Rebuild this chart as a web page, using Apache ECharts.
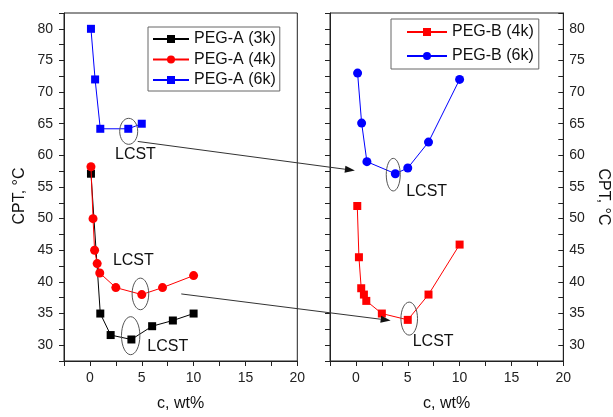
<!DOCTYPE html>
<html>
<head>
<meta charset="utf-8">
<script src="https://cdn.jsdelivr.net/npm/echarts@6/dist/echarts.min.js"></script>
<style>
  html, body { margin: 0; padding: 0; background: #fff; }
  #chart { width: 613px; height: 417px; }
</style>
</head>
<body>
<div id="chart"></div>
<script>
// left panel: PEG-A
const pegA3kX = [0.1, 1, 2, 4, 6, 8, 10];
const pegA3kY = [57.1, 35, 31.6, 30.9, 33, 33.9, 35];
const pegA4kX = [0.1, 0.3, 0.45, 0.7, 0.95, 2.5, 5, 7, 10];
const pegA4kY = [58.2, 50, 45, 42.9, 41.4, 39.1, 38, 39.1, 41];
const pegA6kX = [0.1, 0.5, 1, 3.7, 5];
const pegA6kY = [80, 72, 64.2, 64.2, 65];
// right panel: PEG-B
const pegB4kX = [0.13, 0.29, 0.51, 0.77, 1, 2.5, 5, 7, 10];
const pegB4kY = [52, 43.9, 39, 38, 37, 35, 34, 38, 45.9];
const pegB6kX = [0.16, 0.55, 1.06, 3.8, 5, 7, 10];
const pegB6kY = [73, 65.1, 59, 57.1, 58, 62.1, 72];

// LCST notes: [panel, c, cpt]
const lcstEllipses = [[0, 3.74, 63.8], [0, 4.87, 38.1], [0, 3.93, 31.5], [1, 3.6, 56.95], [1, 5.14, 34.2]];
const lcstLabels = [[0, 4.39, 60.2], [0, 4.19, 43.4], [0, 7.51, 29.7], [1, 6.82, 54.3], [1, 7.45, 30.5]];
// arrows: [from c, from cpt] in left panel -> [to c, to cpt] in right panel
const arrowFrom = [[4.61, 62.2], [8.81, 38.1]];
const arrowTo = [[-0.1, 57.6], [3.35, 33.9]];

const FONT = 'Arial, "Liberation Sans", sans-serif';
const AXIS_COLOR = '#222';

function zip(xs, ys) {
  return xs.map((x, i) => [x, ys[i]]);
}

function xAxisFor(idx) {
  return {
    gridIndex: idx,
    type: 'value',
    min: -2.5,
    max: 20,
    interval: 2.5,
    name: 'c, wt%',
    nameLocation: 'middle',
    nameGap: 35,
    nameTextStyle: { fontSize: 16, color: '#111', fontFamily: FONT },
    axisLine: { onZero: false, lineStyle: { color: AXIS_COLOR } },
    axisTick: { length: 5, lineStyle: { color: AXIS_COLOR } },
    axisLabel: {
      margin: 10, fontSize: 14, color: '#222', fontFamily: FONT,
      formatter: v => (v % 5 === 0 ? String(v) : '')
    },
    splitLine: { show: false }
  };
}

function yAxisFor(idx, position, showLabel, inside) {
  const isLeft = position === 'left';
  return {
    gridIndex: idx,
    type: 'value',
    position: position,
    min: 27.5,
    max: 82.5,
    interval: 2.5,
    name: showLabel ? 'CPT, °C' : '',
    nameLocation: 'middle',
    nameGap: isLeft ? 36 : 32,
    nameRotate: isLeft ? 90 : -90,
    nameTextStyle: {
      fontSize: 16, color: '#111', fontFamily: FONT,
      // nudge the rotated title a little below the plot centre
      padding: isLeft ? [0, 18, 0, 0] : [0, 0, 0, 20]
    },
    axisLine: { onZero: false, lineStyle: { color: AXIS_COLOR } },
    axisTick: { length: 5, inside: inside, lineStyle: { color: AXIS_COLOR } },
    axisLabel: {
      show: showLabel,
      margin: isLeft ? 11 : 6,
      fontSize: 14, color: '#222', fontFamily: FONT,
      formatter: v => (v % 5 === 0 ? String(v) : '')
    },
    splitLine: { show: false }
  };
}

function lineSeries(name, xs, ys, color, symbol, size, axisIdx) {
  return {
    name: name,
    type: 'line',
    xAxisIndex: axisIdx,
    yAxisIndex: axisIdx,
    data: zip(xs, ys),
    symbol: symbol,
    symbolSize: size,
    showAllSymbol: true,
    itemStyle: { color: color },
    lineStyle: { color: color, width: 1 },
    emphasis: { disabled: true },
    z: symbol === 'circle' ? 3 : 2
  };
}

const chart = echarts.init(document.getElementById('chart'), null, { renderer: 'canvas' });

const option = {
  animation: false,
  backgroundColor: '#fff',
  textStyle: { fontFamily: FONT },
  grid: [
    { left: 64, right: 315.7, top: 13, bottom: 55.5, show: true, borderColor: AXIS_COLOR, borderWidth: 1 },
    { left: 330, right: 49.7, top: 13, bottom: 55.5, show: true, borderColor: AXIS_COLOR, borderWidth: 1 }
  ],
  xAxis: [xAxisFor(0), xAxisFor(1)],
  yAxis: [
    yAxisFor(0, 'left', true, false),
    yAxisFor(1, 'left', false, false),
    yAxisFor(1, 'right', true, true)
  ],
  legend: [
    {
      data: ['PEG-A (3k)', 'PEG-A (4k)', 'PEG-A (6k)'],
      orient: 'vertical',
      left: 148, top: 27,
      padding: [4, 4, 3, 4],
      itemWidth: 36, itemHeight: 10, itemGap: 4.5,
      borderColor: '#666', borderWidth: 1,
      textStyle: { fontSize: 16, color: '#111', fontFamily: FONT }
    },
    {
      data: ['PEG-B (4k)', 'PEG-B (6k)'],
      orient: 'vertical',
      left: 391, top: 19,
      padding: [5, 5, 5, 15],
      itemWidth: 40, itemHeight: 10, itemGap: 8,
      borderColor: '#666', borderWidth: 1,
      textStyle: { fontSize: 16, color: '#111', fontFamily: FONT }
    }
  ],
  series: [
    lineSeries('PEG-A (3k)', pegA3kX, pegA3kY, '#000000', 'rect', 8, 0),
    lineSeries('PEG-A (4k)', pegA4kX, pegA4kY, '#ff0000', 'circle', 9, 0),
    lineSeries('PEG-A (6k)', pegA6kX, pegA6kY, '#0000ff', 'rect', 8, 0),
    lineSeries('PEG-B (4k)', pegB4kX, pegB4kY, '#ff0000', 'rect', 8, 1),
    lineSeries('PEG-B (6k)', pegB6kX, pegB6kY, '#0000ff', 'circle', 9, 1)
  ]
};

chart.setOption(option);

// annotations placed through the axes
const ellipseRadii = [[9, 13], [8.3, 15.8], [9.2, 19], [7, 16.3], [8.3, 16.5]];
const toPx = (panel, c, v) => chart.convertToPixel({ xAxisIndex: panel, yAxisIndex: panel }, [c, v]);

const graphics = [];
lcstEllipses.forEach((e, i) => {
  const p = toPx(e[0], e[1], e[2]);
  graphics.push({
    type: 'ellipse',
    shape: { cx: p[0], cy: p[1], rx: ellipseRadii[i][0], ry: ellipseRadii[i][1] },
    style: { fill: null, stroke: '#555', lineWidth: 1 },
    z: 10
  });
});
lcstLabels.forEach(l => {
  const p = toPx(l[0], l[1], l[2]);
  graphics.push({
    type: 'text',
    x: p[0], y: p[1],
    style: { text: 'LCST', fill: '#111', font: '16px ' + FONT, align: 'center', verticalAlign: 'middle' },
    z: 10
  });
});
arrowFrom.forEach((a, i) => {
  const s = toPx(0, a[0], a[1]);
  const t = toPx(1, arrowTo[i][0], arrowTo[i][1]);
  const ang = Math.atan2(t[1] - s[1], t[0] - s[0]);
  const len = 10, half = 3.5;
  const bx = t[0] - len * Math.cos(ang), by = t[1] - len * Math.sin(ang);
  graphics.push({
    type: 'line',
    shape: { x1: s[0], y1: s[1], x2: bx, y2: by },
    style: { stroke: '#333', lineWidth: 1 },
    z: 10
  });
  graphics.push({
    type: 'polygon',
    shape: {
      points: [
        [t[0], t[1]],
        [bx + half * Math.sin(ang), by - half * Math.cos(ang)],
        [bx - half * Math.sin(ang), by + half * Math.cos(ang)]
      ]
    },
    style: { fill: '#111' },
    z: 10
  });
});

chart.setOption({ graphic: graphics });
</script>
</body>
</html>
